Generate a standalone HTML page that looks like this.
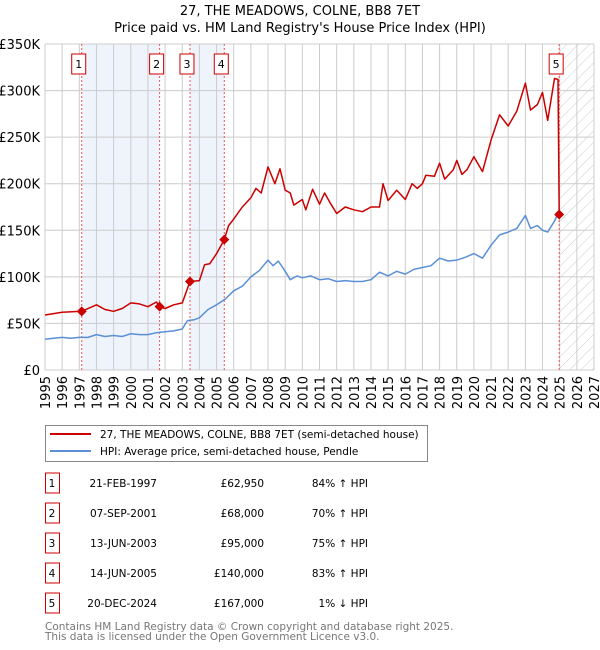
<!DOCTYPE html>
<html><head><meta charset="utf-8"><style>
body{margin:0;background:#fff;font-family:"DejaVu Sans","Liberation Sans",sans-serif;}
svg{display:block}
</style></head><body>
<svg id="c" width="600" height="650" xmlns="http://www.w3.org/2000/svg" font-family="DejaVu Sans, Liberation Sans, sans-serif">
<defs><pattern id="hatch" width="8" height="8" patternUnits="userSpaceOnUse" patternTransform="rotate(45)"><line x1="0" y1="0" x2="0" y2="8" stroke="#ccc" stroke-width="1"/></pattern></defs>
<text x="300" y="15" text-anchor="middle" font-size="13">27, THE MEADOWS, COLNE, BB8 7ET</text>
<text x="300" y="32" text-anchor="middle" font-size="13">Price paid vs. HM Land Registry's House Price Index (HPI)</text>
<g id="plot"></g>
<g>
<rect x="45.5" y="425.5" width="382" height="36" fill="#fff" stroke="#888"/>
<line x1="50" y1="434" x2="91" y2="434" stroke="#cc0000" stroke-width="2"/>
<text x="100" y="438" font-size="10.5">27, THE MEADOWS, COLNE, BB8 7ET (semi-detached house)</text>
<line x1="50" y1="451" x2="91" y2="451" stroke="#5b8fd6" stroke-width="2"/>
<text x="100" y="455" font-size="10.5">HPI: Average price, semi-detached house, Pendle</text>
</g>
<g id="table" font-size="10.5"></g>
<text x="45" y="630" font-size="10.5" fill="#777">Contains HM Land Registry data © Crown copyright and database right 2025.</text>
<text x="45" y="640" font-size="10.5" fill="#777">This data is licensed under the Open Government Licence v3.0.</text>
</svg>
<script>
const hpiYears=[1995,1995.5,1996,1996.5,1997,1997.5,1998,1998.5,1999,1999.5,2000,2000.5,2001,2001.5,2002,2002.5,2003,2003.3,2003.7,2004,2004.5,2005,2005.5,2006,2006.5,2007,2007.5,2008,2008.3,2008.6,2009,2009.3,2009.7,2010,2010.5,2011,2011.5,2012,2012.5,2013,2013.5,2014,2014.5,2015,2015.5,2016,2016.5,2017,2017.5,2018,2018.5,2019,2019.5,2020,2020.5,2021,2021.5,2022,2022.5,2023,2023.3,2023.7,2024,2024.3,2024.7,2024.95];
const hpiValues=[33,34,35,34,35,35,38,36,37,36,39,38,38,40,41,42,44,53,54,56,65,70,76,85,90,100,107,118,112,117,106,97,101,99,101,97,98,95,96,95,95,97,105,101,106,103,108,110,112,120,117,118,121,125,120,134,145,148,152,166,152,155,150,148,160,170];
const redYears=[1995,1996,1997.14,1998,1998.5,1999,1999.5,2000,2000.5,2001,2001.5,2001.68,2002,2002.5,2003,2003.45,2004,2004.3,2004.6,2005,2005.45,2005.7,2006,2006.5,2007,2007.3,2007.6,2008,2008.4,2008.7,2009,2009.3,2009.5,2010,2010.2,2010.6,2011,2011.3,2011.6,2012,2012.5,2013,2013.5,2014,2014.5,2014.7,2015,2015.5,2016,2016.4,2016.7,2017,2017.2,2017.7,2018,2018.3,2018.8,2019,2019.3,2019.6,2020,2020.5,2021,2021.5,2022,2022.5,2023,2023.3,2023.7,2024,2024.3,2024.7,2024.9,2024.97];
const redValues=[59,62,63,70,65,63,66,72,71,68,73,68,66,70,72,95,96,113,114,125,140,155,162,175,185,195,190,218,200,216,193,190,177,183,172,194,178,190,180,168,175,172,170,175,175,200,182,193,183,200,195,200,209,208,222,205,215,225,210,215,229,213,247,274,262,278,308,279,285,298,268,313,312,167];
const saleYears=[1997.14,2001.68,2003.45,2005.45,2024.97];
const salePrices=[62950,68000,95000,140000,167000];
const saleDates=["21-FEB-1997","07-SEP-2001","13-JUN-2003","14-JUN-2005","20-DEC-2024"];
const salePriceLabels=["£62,950","£68,000","£95,000","£140,000","£167,000"];
const saleHpiLabels=["84% ↑ HPI","70% ↑ HPI","75% ↑ HPI","83% ↑ HPI","1% ↓ HPI"];
const yTicks=[0,50,100,150,200,250,300,350];
const yTickLabels=["£0","£50K","£100K","£150K","£200K","£250K","£300K","£350K"];
const xTicks=[1995,1996,1997,1998,1999,2000,2001,2002,2003,2004,2005,2006,2007,2008,2009,2010,2011,2012,2013,2014,2015,2016,2017,2018,2019,2020,2021,2022,2023,2024,2025,2026,2027];

const NS="http://www.w3.org/2000/svg";
const X0=45,X1=594,Y0=370,Y1=44;
const xs=y=>X0+(y-1995)/(2027-1995)*(X1-X0);
const ys=v=>Y0-v/350*(Y0-Y1);
const plot=document.getElementById('plot');
function mk(tag,attrs,parent){const e=document.createElementNS(NS,tag);for(const k in attrs)e.setAttribute(k,attrs[k]);(parent||plot).appendChild(e);return e;}

let r=mk('rect',{x:xs(saleYears[0]),y:Y1,width:xs(saleYears[1])-xs(saleYears[0]),height:Y0-Y1,fill:'#eef3fc'});


r=mk('rect',{x:xs(saleYears[2]),y:Y1,width:xs(saleYears[3])-xs(saleYears[2]),height:Y0-Y1,fill:'#eef3fc'});


r=mk('rect',{x:xs(2025),y:Y1,width:X1-xs(2025),height:Y0-Y1,fill:'url(#hatch)'});



xTicks.forEach(t=>{
 const l=mk('line',{x1:xs(t),x2:xs(t),y1:Y1,y2:Y0,stroke:'#ccc','stroke-width':1});
 
 
 const tx=mk('text',{x:0,y:0,'font-size':13,'text-anchor':'end',transform:`translate(${xs(t)+5},376) rotate(-90)`});
 tx.textContent=t;
 
 
});
yTicks.forEach((t,i)=>{
 const l=mk('line',{x1:X0,x2:X1,y1:ys(t),y2:ys(t),stroke:'#ccc','stroke-width':1});
 
 
 const tx=mk('text',{x:40,y:ys(t)+5,'font-size':13,'text-anchor':'end'});
 tx.textContent=yTickLabels[i];
 
 
});

saleYears.forEach((s,i)=>{
 const l=mk('line',{x1:xs(s),x2:xs(s),y1:Y1,y2:Y0,stroke:'#ee5555','stroke-width':1,'stroke-dasharray':'2,2'});
 
 
 const cx=xs(s)-3;
 const b=mk('rect',{x:cx-7,y:54,width:14,height:20,fill:'#fff',stroke:'#cc0000'});
 
 
 const t=mk('text',{x:cx,y:68,'font-size':11,'text-anchor':'middle'});
 t.textContent=i+1;
 
 
});

let d=hpiYears.map((y,i)=>(i?'L':'M')+xs(y).toFixed(1)+','+ys(hpiValues[i]).toFixed(1)).join('');
let p=mk('path',{d:d,fill:'none',stroke:'#5b8fd6','stroke-width':1.5,'stroke-linejoin':'round'});


d=redYears.map((y,i)=>(i?'L':'M')+xs(y).toFixed(1)+','+ys(redValues[i]).toFixed(1)).join('');
p=mk('path',{d:d,fill:'none',stroke:'#cc0000','stroke-width':1.5,'stroke-linejoin':'round'});


saleYears.forEach((s,i)=>{
 const x=xs(s),y=ys(salePrices[i]/1000);
 const m=mk('path',{d:`M${x},${y-5}L${x+5},${y}L${x},${y+5}L${x-5},${y}Z`,fill:'#cc0000'});
 
 
});

const tb=document.getElementById('table');
saleYears.forEach((s,i)=>{
 const cy=483+i*30;
 const b=mk('rect',{x:45.5,y:cy-10,width:14,height:20,fill:'#fff',stroke:'#cc0000'},tb);
 
 
 const cols=[[52,'middle',String(i+1)],[157,'end',saleDates[i]],[264,'end',salePriceLabels[i]],[368,'end',saleHpiLabels[i]]];
 cols.forEach(c=>{
  const t=mk('text',{x:c[0],y:cy+4,'text-anchor':c[1]},tb);
  t.textContent=c[2];
  
  
 });
});
</script>
</body></html>
